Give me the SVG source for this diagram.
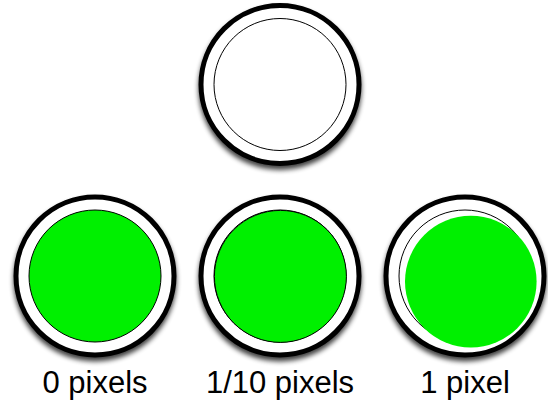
<svg xmlns="http://www.w3.org/2000/svg" width="548" height="404" viewBox="0 0 548 404">
  <defs>
    <filter id="shadow" x="-20%" y="-20%" width="140%" height="150%">
      <feGaussianBlur in="SourceAlpha" stdDeviation="2.5"/>
      <feOffset dx="0" dy="4" result="b"/>
      <feComponentTransfer in="b" result="s"><feFuncA type="linear" slope="0.75"/></feComponentTransfer>
      <feMerge><feMergeNode in="s"/><feMergeNode in="SourceGraphic"/></feMerge>
    </filter>
  </defs>
  <style>
    .ring { fill: #ffffff; stroke: #000000; stroke-width: 5; filter: url(#shadow); }
    .inner { fill: #ffffff; stroke: #000000; stroke-width: 1; }
    .green { fill: #00f000; stroke: #000000; stroke-width: 1; }
    .greenNo { fill: #00f000; stroke: none; }
    .label { font-family: "Liberation Sans", Arial, Helvetica, sans-serif; font-size: 31px; fill: #000000; text-anchor: middle; }
  </style>
  <g id="top">
    <circle class="ring" cx="280" cy="84.5" r="79"/>
    <circle class="inner" cx="280" cy="84.5" r="66"/>
  </g>
  <g id="zero-pixels">
    <circle class="ring" cx="95" cy="276" r="79"/>
    <circle class="green" cx="95" cy="276" r="66"/>
    <text class="label" x="95" y="392.5">0 pixels</text>
  </g>
  <g id="tenth-pixel">
    <circle class="ring" cx="280" cy="276" r="79"/>
    <circle class="inner" cx="280" cy="276" r="66"/>
    <circle class="green" cx="280.4" cy="276.4" r="66"/>
    <text class="label" x="280" y="392.5">1/10 pixels</text>
  </g>
  <g id="one-pixel">
    <circle class="ring" cx="465" cy="276" r="79"/>
    <circle class="inner" cx="465" cy="276" r="66"/>
    <circle class="greenNo" cx="470.8" cy="281.6" r="65.8"/>
    <text class="label" x="465" y="392.5">1 pixel</text>
  </g>
  <g id="connectors"/>
</svg>
